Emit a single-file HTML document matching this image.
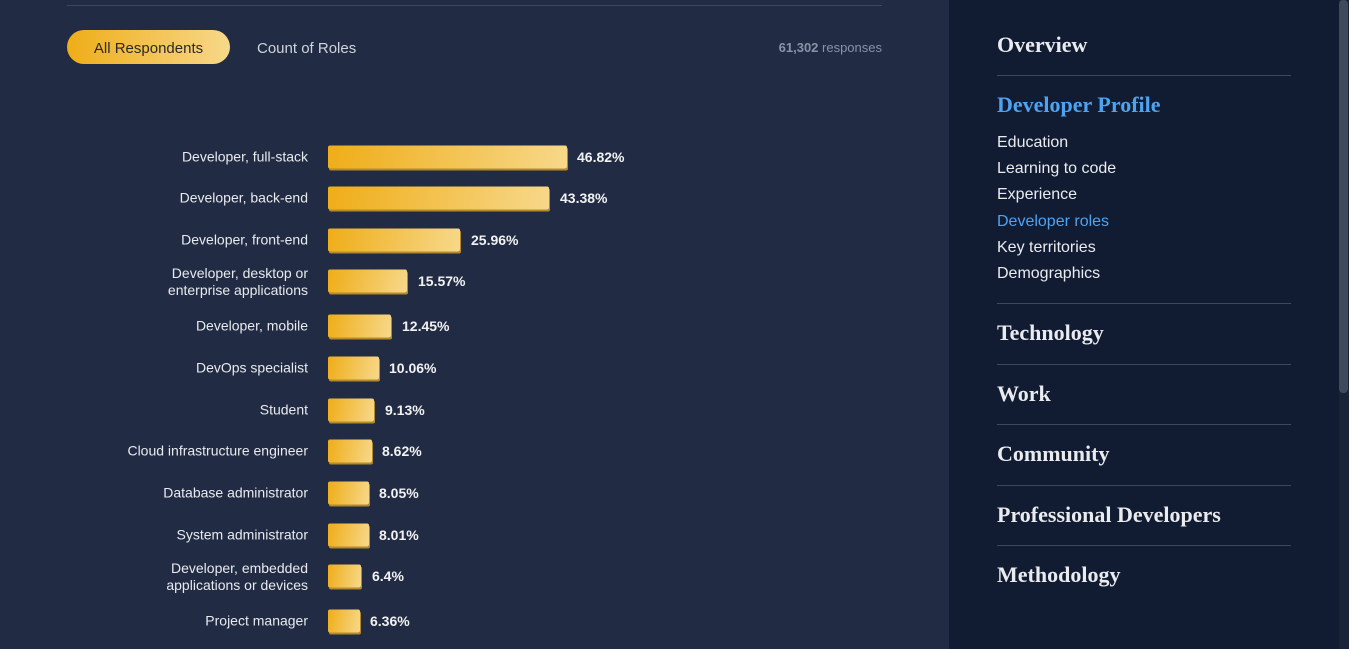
<!DOCTYPE html><html><head><style>
body{margin:0;width:1349px;height:649px;background:#212b43;font-family:"Liberation Sans",sans-serif;position:relative;overflow:hidden}
.a{position:absolute}
.lbl{position:absolute;right:1041px;text-align:right;color:#e8eaee;font-size:14px;line-height:17px;transform:translateY(-50%)}
.bar{position:absolute;left:328px;height:23px;border-radius:2px;background:linear-gradient(100deg,#efad18,#f7d88a);box-shadow:1px 2px 0 #b48a2c;transform:translateY(-50%)}
.val{position:absolute;color:#f2f2f2;font-size:14px;font-weight:bold;transform:translateY(-50%)}
.side{position:absolute;left:949px;top:0;width:390px;height:649px;background:#111c32}
.h{position:absolute;left:997px;color:#e9ebef;font-family:"Liberation Serif",serif;font-weight:bold;font-size:22px}
.hr{position:absolute;left:997px;width:294px;height:1px;background:#3c4760}
.s{position:absolute;left:997px;color:#e9ebef;font-size:16px}
</style></head><body>
<div class="a" style="left:67px;top:5px;width:815px;height:1px;background:#3c4760"></div>
<div class="a" style="left:67px;top:30px;width:163px;height:34px;border-radius:17px;background:linear-gradient(90deg,#efad18,#f7d88a);color:#2a2a2a;font-size:15px;line-height:38px;text-align:center">All Respondents</div>
<div class="a" style="left:257px;top:40px;color:#d0d4dc;font-size:15px">Count of Roles</div>
<div class="a" style="right:467px;top:40px;color:#8a93a6;font-size:13px"><b>61,302</b> responses</div>

<div class="lbl" style="top:157px">Developer, full-stack</div><div class="bar" style="top:157px;width:239px"></div><div class="val" style="top:157px;left:577px">46.82%</div>
<div class="lbl" style="top:198px">Developer, back-end</div><div class="bar" style="top:198px;width:221px"></div><div class="val" style="top:198px;left:560px">43.38%</div>
<div class="lbl" style="top:240px">Developer, front-end</div><div class="bar" style="top:240px;width:132px"></div><div class="val" style="top:240px;left:471px">25.96%</div>
<div class="lbl" style="top:282px">Developer, desktop or<br>enterprise applications</div><div class="bar" style="top:281px;width:79px"></div><div class="val" style="top:281px;left:418px">15.57%</div>
<div class="lbl" style="top:326px">Developer, mobile</div><div class="bar" style="top:326px;width:63px"></div><div class="val" style="top:326px;left:402px">12.45%</div>
<div class="lbl" style="top:368px">DevOps specialist</div><div class="bar" style="top:368px;width:51px"></div><div class="val" style="top:368px;left:389px">10.06%</div>
<div class="lbl" style="top:410px">Student</div><div class="bar" style="top:410px;width:46px"></div><div class="val" style="top:410px;left:385px">9.13%</div>
<div class="lbl" style="top:451px">Cloud infrastructure engineer</div><div class="bar" style="top:451px;width:44px"></div><div class="val" style="top:451px;left:382px">8.62%</div>
<div class="lbl" style="top:493px">Database administrator</div><div class="bar" style="top:493px;width:41px"></div><div class="val" style="top:493px;left:379px">8.05%</div>
<div class="lbl" style="top:535px">System administrator</div><div class="bar" style="top:535px;width:41px"></div><div class="val" style="top:535px;left:379px">8.01%</div>
<div class="lbl" style="top:577px">Developer, embedded<br>applications or devices</div><div class="bar" style="top:576px;width:33px"></div><div class="val" style="top:576px;left:372px">6.4%</div>
<div class="lbl" style="top:621px">Project manager</div><div class="bar" style="top:621px;width:32px"></div><div class="val" style="top:621px;left:370px">6.36%</div>

<div class="side"></div>
<div class="a" style="left:1339px;top:0;width:10px;height:649px;background:#1a2438"></div>
<div class="a" style="left:1339px;top:0;width:9px;height:393px;border-radius:4px;background:#3f4a5c"></div>
<div class="h" style="top:32px">Overview</div>
<div class="hr" style="top:75px"></div>
<div class="h" style="top:92px;color:#4ea3f1">Developer Profile</div>
<div class="s" style="top:134px">Education</div>
<div class="s" style="top:160px">Learning to code</div>
<div class="s" style="top:186px">Experience</div>
<div class="s" style="top:213px;color:#4ea3f1">Developer roles</div>
<div class="s" style="top:239px">Key territories</div>
<div class="s" style="top:265px">Demographics</div>
<div class="hr" style="top:303px"></div>
<div class="h" style="top:320px">Technology</div>
<div class="hr" style="top:364px"></div>
<div class="h" style="top:381px">Work</div>
<div class="hr" style="top:424px"></div>
<div class="h" style="top:441px">Community</div>
<div class="hr" style="top:485px"></div>
<div class="h" style="top:502px">Professional Developers</div>
<div class="hr" style="top:545px"></div>
<div class="h" style="top:562px">Methodology</div>
</body></html>
